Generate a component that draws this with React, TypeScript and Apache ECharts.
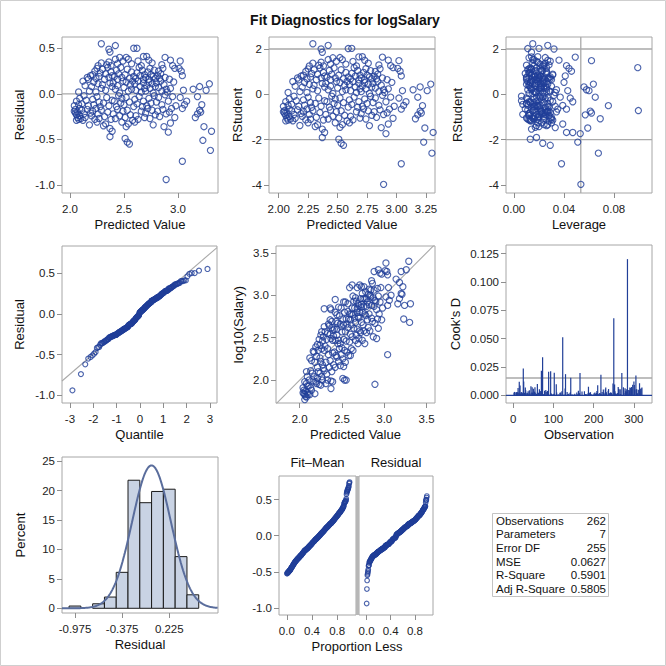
import React, { useEffect, useRef } from "react";
import * as echarts from "echarts";

// ---------- observation data ----------
const predicted = [
  2.04,2.05,2.05,2.06,2.07,2.07,2.08,2.09,2.09,2.06,2.04,2.06,2.08,2.09,2.08,
  2.10,2.11,2.12,2.13,2.14,2.16,2.19, 2.11,2.13,2.15,2.17, 2.12,2.14,2.18, 2.16,2.19,2.17, 2.18,
  2.20,2.21,2.23,2.24,2.26,2.27,2.29, 2.21,2.22,2.25,2.27,2.28, 2.20,2.22,2.24,2.26,2.29, 2.21,2.23,2.24,2.25,2.27,2.28, 2.26,2.29, 2.25, 2.29,
  2.32,2.35,2.38, 2.31,2.34,2.36,2.39, 2.30,2.33,2.37,2.39, 2.30,2.32,2.33,2.35,2.36,2.38,2.39, 2.34,2.36,2.38, 2.31,2.33,2.37,2.39, 2.37, 2.36,2.37,
  2.40,2.42,2.44,2.46,2.49, 2.41,2.43,2.45,2.47,2.48, 2.40,2.42,2.44,2.46,2.49, 2.41,2.43,2.44,2.45,2.47,2.48, 2.42,2.44,2.46,2.49, 2.42, 2.48,
  2.51,2.53,2.56,2.58, 2.50,2.52,2.55,2.59, 2.50,2.52,2.54,2.56,2.57,2.58, 2.51,2.53,2.55,2.57,2.59, 2.52,2.54,2.57, 2.51,2.53,2.55, 2.52,2.54, 2.59,
  2.61,2.63,2.66,2.69, 2.60,2.62,2.64,2.67,2.68, 2.60,2.61,2.63,2.65,2.66,2.68,2.69, 2.61,2.62,2.64,2.65,2.67,2.68,2.69, 2.63,2.66,2.68, 2.62, 2.60,
  2.70,2.72,2.74,2.76,2.79, 2.71,2.73,2.75,2.78, 2.70,2.71,2.73,2.74,2.76,2.77,2.79, 2.70,2.72,2.73,2.74,2.75,2.77,2.78,2.79, 2.71,2.73,2.76, 2.77,
  2.81,2.83,2.86,2.89, 2.80,2.82,2.85,2.88, 2.80,2.82,2.84,2.85,2.87,2.89, 2.81,2.82,2.83,2.84,2.86,2.88, 2.88,2.85, 2.89, 2.87,
  2.92,2.94,2.97, 2.91,2.95,2.98, 2.90,2.93,2.96, 2.92,2.97, 2.93,2.95, 2.91,2.93,
  3.02, 3.01,3.03,3.04, 3.05, 3.02,3.06,3.08, 3.04, 3.04,
  3.14,3.20,3.26,3.29, 3.18,3.22, 3.16,3.18,3.20,3.21, 3.30, 3.23, 3.24,3.31,
];
const residual = [
  -0.19,-0.21,-0.17,-0.23,-0.26,-0.20,-0.28,-0.16,-0.24,-0.29,-0.13,-0.08,-0.12,-0.05,0.02,
  -0.27,-0.18,-0.29,-0.22,-0.26,-0.17,-0.21, -0.11,-0.02,-0.07,-0.13, 0.14,0.09,0.03, 0.18,0.20,0.16, -0.34,
  -0.24,-0.19,-0.28,-0.16,-0.22,-0.27,-0.18, -0.06,-0.12,-0.03,-0.09,-0.14, 0.08,0.13,0.02,0.11,0.06, 0.21,0.25,0.17,0.28,0.19,0.23, 0.31,0.34, -0.31, 0.55,
  -0.25,-0.20,-0.28, -0.10,-0.04,-0.13,-0.07, 0.10,0.04,0.12,0.08, 0.27,0.16,0.22,0.29,0.18,0.24,0.20, 0.32,0.35,0.31, -0.35,-0.33,-0.38,-0.41, -0.47, 0.49,0.46,
  -0.22,-0.27,-0.17,-0.24,-0.19, -0.08,-0.14,-0.02,-0.10,-0.05, 0.12,0.05,0.09,0.01,0.14, 0.19,0.26,0.16,0.22,0.29,0.18, 0.38,0.33,0.40,0.36, 0.53, -0.31,
  -0.26,-0.18,-0.23,-0.29, -0.12,-0.04,-0.09,-0.14, 0.07,0.13,0.03,0.10,0.05,0.14, 0.21,0.27,0.17,0.24,0.19, 0.40,0.38,0.33, -0.49,-0.53,-0.55, -0.36,-0.33, 0.50,
  -0.24,-0.28,-0.19,-0.26, -0.06,-0.11,-0.03,-0.14,-0.08, 0.11,0.04,0.14,0.08,0.02,0.12,0.06, 0.17,0.23,0.29,0.20,0.26,0.16,0.21, 0.36,0.31,0.41, 0.50, -0.31,
  -0.21,-0.16,-0.27,-0.18,-0.23, -0.13,-0.05,-0.10,-0.02, 0.03,0.09,0.13,0.06,0.11,0.01,0.08, 0.18,0.24,0.16,0.28,0.21,0.19,0.26,0.17, 0.41,0.37,0.34, -0.34,
  -0.19,-0.25,-0.17,-0.22, -0.09,-0.04,-0.12,-0.01, 0.12,0.07,0.14,0.03,0.10,0.05, 0.20,0.25,0.17,0.22,0.28,0.18, 0.40,0.32, -0.94, -0.36,
  -0.20,-0.16,-0.26, -0.08,-0.03,-0.13, 0.02,0.06,0.13, 0.16,0.28, 0.37,0.31, -0.42,-0.32,
  0.36, 0.28,0.25,0.20, 0.04, -0.04,-0.12,-0.08, -0.16, -0.74,
  0.05,0.08,0.04,0.11, -0.03,-0.12, -0.26,-0.22,-0.18,-0.20, -0.62, -0.51, -0.36,-0.41,
];
const leverage = [
  0.034,0.012,0.0995,0.028,0.010,0.025,0.031,0.009,0.024,0.014,0.033,0.018,0.021,0.011,0.023,
  0.016,0.027,0.013,0.020,0.029,0.011,0.022, 0.015,0.024,0.006,0.019, 0.026,0.012,0.017, 0.010,0.021,0.014, 0.018,
  0.017,0.026,0.012,0.021,0.007,0.030,0.015, 0.019,0.011,0.023,0.016,0.028, 0.013,0.024,0.018,0.010,0.022, 0.014,0.020,0.027,0.012,0.017,0.009, 0.016,0.025, 0.022, 0.015,
  0.019,0.013,0.024, 0.010,0.021,0.016,0.029, 0.012,0.020,0.017,0.026, 0.011,0.023,0.015,0.018,0.028,0.013,0.021, 0.010,0.019,0.024, 0.020,0.027,0.014,0.047, 0.018, 0.032,0.014,
  0.018,0.011,0.025,0.015,0.022, 0.013,0.020,0.006,0.027,0.016, 0.021,0.014,0.030,0.012,0.019, 0.010,0.023,0.017,0.026,0.013,0.020, 0.016,0.024,0.012,0.029, 0.027, 0.019,
  0.015,0.022,0.012,0.028, 0.018,0.010,0.024,0.016, 0.021,0.013,0.026,0.017,0.011,0.023, 0.019,0.014,0.029,0.012,0.020, 0.025,0.015,0.021, 0.013,0.023,0.029, 0.017,0.024, 0.011,
  0.020,0.013,0.027,0.016, 0.022,0.007,0.018,0.025,0.012, 0.015,0.028,0.011,0.021,0.017,0.024,0.014, 0.019,0.012,0.026,0.016,0.022,0.010,0.031, 0.018,0.023,0.014, 0.020, 0.030,
  0.023,0.014,0.019,0.028,0.012, 0.017,0.025,0.010,0.021, 0.016,0.024,0.013,0.020,0.027,0.015,0.022, 0.012,0.026,0.018,0.021,0.014,0.029,0.017,0.024, 0.019,0.027,0.015, 0.026,
  0.021,0.030,0.016,0.025, 0.013,0.027,0.019,0.032, 0.018,0.024,0.015,0.029,0.021,0.034, 0.017,0.026,0.020,0.031,0.014,0.023, 0.049,0.028, 0.0535, 0.033,
  0.029,0.035,0.024, 0.031,0.037,0.027, 0.033,0.026,0.040, 0.030,0.099, 0.036,0.042, 0.053,0.039,
  0.062, 0.044,0.046,0.041, 0.043, 0.045,0.039,0.047, 0.042, 0.038,
  0.058,0.056,0.060,0.0635, 0.065,0.0755, 0.069,0.057,0.061,0.062, 0.0675, 0.051, 0.059,0.042,
];
const observation = [
  3,24,44,66,87,108,129,150,171,192,213,234,257,277,298,
  8,27,46,63,81,99,116, 135,152,170,188, 205,223,241, 258,275,293, 311,
  2,14,28,39,52,65,76, 89,100,112,125,137, 149,161,173,184,197, 209,221,232,244,256,267, 279,290, 302, 314,
  4,18,31, 43,55,68,80, 92,104,117,128, 141,153,165,177,189,201,207, 225,237,251, 262,274,286,102, 297, 130,320,
  7,21,35,48,61, 74,86,98,111,124, 136,148,160,172,183, 195,208,220,231,242,254, 266,278,289,301, 218, 315,
  9,23,36,50, 62,75,90,103, 114,126,139,155,167,179, 191,203,215,226,239, 252,263,281, 294,143,93, 306,318, 12,
  10,22,34,49, 59,71,83,96,109, 120,133,145,157,168,181,193, 204,217,229,240,253,265,282, 295,307,317, 15, 30,
  11,32,53,72,94, 113,132,156,174, 194,214,235,260,283,304,322, 16,37,57,78,101,118,142,164, 187,210,236, 261,
  19,40,58,82, 105,122,147,175, 199,219,246,271,299,310, 42,67,95,121,158,186, 270,230, 284, 248,
  20,56,85, 144,176,211, 238,272,288, 309,70, 26,60, 25,107,
  88, 17,47,162, 200, 227,245,285, 69, 123,
  13,77,178,259, 198,134, 300,54,224,292, 250, 73, 166,305,
];

// ---------- fit statistics ----------
const nParams = 7;
const mseValue = 0.0627;
const statLabels = ["Observations", "Parameters", "Error DF", "MSE", "R-Square", "Adj R-Square"];
const statValues = ["262", "7", "255", "0.0627", "0.5901", "0.5805"];

// ---------- tick values ----------
const ticksPredA = [2.0, 2.5, 3.0];
const ticksResid = [-1.0, -0.5, 0.0, 0.5];
const ticksPredB = [2.0, 2.25, 2.5, 2.75, 3.0, 3.25];
const ticksRStudent = [-4, -2, 0, 2];
const ticksLeverage = [0, 0.04, 0.08];
const ticksQuantile = [-3, -2, -1, 0, 1, 2, 3];
const ticksLogSal = [2.0, 2.5, 3.0, 3.5];
const ticksObs = [0, 100, 200, 300];
const ticksCook = [0, 0.025, 0.05, 0.075, 0.1, 0.125];
const ticksHistX = [-0.975, -0.375, 0.225];
const ticksPercent = [0, 5, 10, 15, 20, 25];
const ticksProp = [0, 0.4, 0.8];
const histStart = -1.05;
const histWidth = 0.15;
const histBins = 11;

const FONT = '"Liberation Sans", Arial, Helvetica, sans-serif';
const BLUE = "#213f98";
const REF = "#a9a9a9";

function normInv(p: number): number {
  const a = [-3.969683028665376e1, 2.209460984245205e2, -2.759285104469687e2, 1.38357751867269e2, -3.066479806614716e1, 2.506628277459239];
  const b = [-5.447609879822406e1, 1.615858368580409e2, -1.556989798598866e2, 6.680131188771972e1, -1.328068155288572e1];
  const c = [-7.784894002430293e-3, -3.223964580411365e-1, -2.400758277161838, -2.549732539343734, 4.374664141464968, 2.938163982698783];
  const d = [7.784695709041462e-3, 3.224671290700398e-1, 2.445134137142996, 3.754408661907416];
  const pl = 0.02425;
  if (p < pl) {
    const q = Math.sqrt(-2 * Math.log(p));
    return (((((c[0] * q + c[1]) * q + c[2]) * q + c[3]) * q + c[4]) * q + c[5]) / ((((d[0] * q + d[1]) * q + d[2]) * q + d[3]) * q + 1);
  }
  if (p <= 1 - pl) {
    const q = p - 0.5;
    const r = q * q;
    return ((((((a[0] * r + a[1]) * r + a[2]) * r + a[3]) * r + a[4]) * r + a[5]) * q) / (((((b[0] * r + b[1]) * r + b[2]) * r + b[3]) * r + b[4]) * r + 1);
  }
  const q = Math.sqrt(-2 * Math.log(1 - p));
  return -(((((c[0] * q + c[1]) * q + c[2]) * q + c[3]) * q + c[4]) * q + c[5]) / ((((d[0] * q + d[1]) * q + d[2]) * q + d[3]) * q + 1);
}

function buildOption() {
  const n = Math.min(predicted.length, residual.length, leverage.length, observation.length);
  const p = nParams;
  const dfe = n - p;
  const rst: number[] = [];
  const cook: number[] = [];
  for (let i = 0; i < n; i++) {
    const r = residual[i];
    const h = leverage[i];
    const s2 = (dfe * mseValue - (r * r) / (1 - h)) / (dfe - 1);
    rst.push(r / (Math.sqrt(s2) * Math.sqrt(1 - h)));
    cook.push((r * r * h) / (p * mseValue * (1 - h) * (1 - h)));
  }
  const meanR = residual.slice(0, n).reduce((s, v) => s + v, 0) / n;
  const sdR = Math.sqrt(residual.slice(0, n).reduce((s, v) => s + (v - meanR) * (v - meanR), 0) / (n - 1));
  let meanY = 0;
  for (let i = 0; i < n; i++) meanY += predicted[i] + residual[i];
  meanY /= n;

  const sortedRes = residual.slice(0, n).sort((x, y) => x - y);
  const sortedFit = predicted.slice(0, n).map((v) => v - meanY).sort((x, y) => x - y);
  const qq = sortedRes.map((v, i) => [normInv((i + 0.5) / n), v]);
  const rfFit = sortedFit.map((v, i) => [(i + 0.5) / n, v]);
  const rfRes = sortedRes.map((v, i) => [(i + 0.5) / n, v]);

  const counts = new Array(histBins).fill(0);
  for (let i = 0; i < n; i++) {
    const k = Math.floor((residual[i] - histStart) / histWidth + 1e-9);
    if (k >= 0 && k < histBins) counts[k]++;
  }
  const histData = counts
    .map((c, k) => [histStart + k * histWidth, histStart + (k + 1) * histWidth, (100 * c) / n])
    .filter((d) => d[2] > 0);
  const curve: number[][] = [];
  for (let x = -1.14; x <= 0.846; x += 0.01) {
    const z = (x - meanR) / sdR;
    curve.push([x, (100 * histWidth * Math.exp(-0.5 * z * z)) / (sdR * Math.sqrt(2 * Math.PI))]);
  }

  const gridBase = { show: true, borderColor: "#a6a6a6", borderWidth: 1, backgroundColor: "transparent", containLabel: false };
  const grids = [
    { left: 62, top: 37, width: 156, height: 156 },
    { left: 269, top: 37, width: 166, height: 156 },
    { left: 506, top: 37, width: 146, height: 156 },
    { left: 62, top: 246, width: 155, height: 157 },
    { left: 276, top: 246, width: 159, height: 157 },
    { left: 506, top: 245, width: 146, height: 158 },
    { left: 62, top: 457, width: 156, height: 156 },
    { left: 279, top: 476, width: 77, height: 139 },
    { left: 359, top: 476, width: 74, height: 139 },
  ].map((g) => ({ ...gridBase, ...g }));

  const ax = (gridIndex: number, min: number, max: number, ticks: number[], dec: number, name: string, nameGap: number, margin: number, showLabels = true) => ({
    type: "value",
    gridIndex,
    min,
    max,
    axisLine: { show: false, onZero: false },
    axisTick: { show: showLabels, length: 5, lineStyle: { color: "#8e8e8e", width: 1 }, customValues: ticks },
    axisLabel: {
      show: showLabels,
      customValues: ticks,
      formatter: (v: number) => v.toFixed(dec),
      fontSize: 11.5,
      color: "#222",
      fontFamily: FONT,
      margin,
    },
    splitLine: { show: false },
    name,
    nameLocation: "middle",
    nameGap,
    nameTextStyle: { fontSize: 13, color: "#111", fontFamily: FONT },
  });

  const xAxis = [
    ax(0, 1.926, 3.37, ticksPredA, 1, "Predicted Value", 25, 10),
    ax(1, 1.918, 3.326, ticksPredB, 2, "Predicted Value", 25, 10),
    ax(2, -0.0064, 0.1104, ticksLeverage, 2, "Leverage", 25, 10),
    ax(3, -3.34, 3.3, ticksQuantile, 0, "Quantile", 25, 10),
    ax(4, 1.72, 3.6, ticksLogSal, 1, "Predicted Value", 25, 10),
    ax(5, -18, 345, ticksObs, 0, "Observation", 25, 10),
    ax(6, -1.14, 0.845, ticksHistX, 3, "Residual", 25, 10),
    ax(7, -0.125, 1.1, ticksProp, 1, "", 25, 10),
    ax(8, -0.125, 1.1, ticksProp, 1, "", 25, 10),
  ];
  const yAxis = [
    ax(0, -1.088, 0.624, ticksResid, 1, "Residual", 36.5, 7),
    ax(1, -4.35, 2.53, ticksRStudent, 0, "RStudent", 25, 7),
    ax(2, -4.35, 2.53, ticksRStudent, 0, "RStudent", 42, 7),
    ax(3, -1.095, 0.832, ticksResid, 1, "Residual", 36.5, 7),
    ax(4, 1.73, 3.58, ticksLogSal, 1, "log10(Salary)", 31, 7),
    ax(5, -0.0068, 0.1327, ticksCook, 3, "Cook's D", 44, 7),
    ax(6, -0.8, 25.7, ticksPercent, 0, "Percent", 35.5, 7),
    ax(7, -1.1, 0.829, ticksResid, 1, "", 30, 7),
    ax(8, -1.1, 0.829, ticksResid, 1, "", 30, 7, false),
  ];

  const marker = (size: number) => ({
    symbol: "circle",
    symbolSize: size,
    itemStyle: { color: "rgba(255,255,255,0)", borderColor: BLUE, borderWidth: 1.15 },
  });
  const scatter = (gi: number, data: number[][], size = 6.2) => ({
    type: "scatter",
    xAxisIndex: gi,
    yAxisIndex: gi,
    data,
    z: 3,
    silent: true,
    ...marker(size),
  });
  const refLine = (gi: number, data: number[][], color = REF, width = 1.3) => ({
    type: "line",
    xAxisIndex: gi,
    yAxisIndex: gi,
    data,
    symbol: "none",
    silent: true,
    z: 1,
    lineStyle: { color, width },
  });

  const idx = Array.from({ length: n }, (_, i) => i);
  const levCut = (2 * p) / n;
  const cookCut = 4 / n;

  const series: any[] = [
    refLine(0, [[1.926, 0], [3.37, 0]]),
    scatter(0, idx.map((i) => [predicted[i], residual[i]])),
    refLine(1, [[1.918, 2], [3.326, 2]]),
    refLine(1, [[1.918, -2], [3.326, -2]]),
    scatter(1, idx.map((i) => [predicted[i], rst[i]])),
    refLine(2, [[-0.0064, 2], [0.1104, 2]]),
    refLine(2, [[-0.0064, -2], [0.1104, -2]]),
    refLine(2, [[levCut, -4.35], [levCut, 2.53]]),
    scatter(2, idx.map((i) => [leverage[i], rst[i]])),
    refLine(3, [[-3.34, meanR - 3.34 * sdR], [3.3, meanR + 3.3 * sdR]], "#a9a9a9", 1.1),
    scatter(3, qq, 5),
    refLine(4, [[1.72, 1.72], [3.6, 3.6]], "#a9a9a9", 1.1),
    scatter(4, idx.map((i) => [predicted[i], predicted[i] + residual[i]])),
    refLine(5, [[-18, cookCut], [345, cookCut]]),
    refLine(5, [[-18, 0], [345, 0]], BLUE, 1.3),
    {
      type: "custom",
      xAxisIndex: 5,
      yAxisIndex: 5,
      data: idx.map((i) => [observation[i], cook[i]]),
      encode: { x: 0, y: 1 },
      silent: true,
      z: 2,
      renderItem: (_params: any, api: any) => {
        const a = api.coord([api.value(0), 0]);
        const b = api.coord([api.value(0), api.value(1)]);
        return { type: "line", shape: { x1: a[0], y1: a[1], x2: b[0], y2: b[1] }, style: { stroke: BLUE, lineWidth: 1.2 } };
      },
    },
    {
      type: "custom",
      xAxisIndex: 6,
      yAxisIndex: 6,
      data: histData,
      encode: { x: [0, 1], y: 2 },
      silent: true,
      z: 2,
      renderItem: (_params: any, api: any) => {
        const a = api.coord([api.value(0), api.value(2)]);
        const b = api.coord([api.value(1), 0]);
        return {
          type: "rect",
          shape: { x: a[0], y: a[1], width: b[0] - a[0], height: b[1] - a[1] },
          style: { fill: "#c9d3e4", stroke: "#1a1a1a", lineWidth: 1 },
        };
      },
    },
    {
      type: "line",
      xAxisIndex: 6,
      yAxisIndex: 6,
      data: curve,
      symbol: "none",
      smooth: false,
      silent: true,
      z: 4,
      lineStyle: { color: "#5a6d9c", width: 2 },
    },
    scatter(7, rfFit, 4.6),
    scatter(8, rfRes, 4.6),
  ];

  const txt = (x: number, y: number, text: string, font: string, align = "center", extra: any = {}) => ({
    type: "text",
    x,
    y,
    silent: true,
    style: { text, font, fill: "#111", align, verticalAlign: "middle", textAlign: align, textVerticalAlign: "middle", ...extra },
  });

  const graphic: any[] = [
    { type: "rect", shape: { x: 0.5, y: 0.5, width: 665, height: 665 }, style: { fill: "none", stroke: "#cfcfcf", lineWidth: 1 }, silent: true },
    txt(345, 20, "Fit Diagnostics for logSalary", `bold 14px ${FONT}`),
    { type: "rect", shape: { x: 356, y: 476, width: 3, height: 139 }, style: { fill: "#b7b7b7" }, silent: true },
    txt(317.5, 462, "Fit–Mean", `13px ${FONT}`),
    txt(396, 462, "Residual", `13px ${FONT}`),
    txt(357, 646, "Proportion Less", `13px ${FONT}`),
    { type: "rect", shape: { x: 492.5, y: 513.5, width: 116, height: 83 }, style: { fill: "#fff", stroke: "#c3c3c3", lineWidth: 1 }, silent: true },
  ];
  statLabels.forEach((lab, i) => {
    graphic.push(txt(496, 520.8 + 13.6 * i, lab, `11.5px ${FONT}`, "left"));
    graphic.push(txt(606, 520.8 + 13.6 * i, statValues[i], `11.5px ${FONT}`, "right"));
  });

  return {
    animation: false,
    backgroundColor: "#ffffff",
    grid: grids,
    xAxis,
    yAxis,
    series,
    graphic,
  };
}

export default function App() {
  const ref = useRef<HTMLDivElement>(null);
  useEffect(() => {
    if (!ref.current) return;
    const chart = echarts.init(ref.current, undefined, { renderer: "svg" });
    chart.setOption(buildOption() as any);
    return () => chart.dispose();
  }, []);
  return (
    <div
      ref={ref}
      style={{ position: "absolute", left: 0, top: 0, width: 666, height: 666, background: "#fff" }}
    />
  );
}
